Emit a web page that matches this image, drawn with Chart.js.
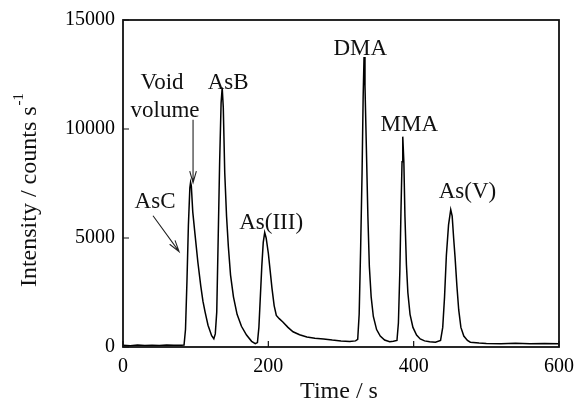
<!DOCTYPE html>
<html>
<head>
<meta charset="utf-8">
<script src="https://cdn.jsdelivr.net/npm/chart.js@4.4.1/dist/chart.umd.min.js"></script>
<style>
  html, body { margin: 0; padding: 0; background: #fff; }
  #wrap { width: 575px; height: 407px; position: relative; }
</style>
</head>
<body>
<div id="wrap"><canvas id="chart_chromatogram"></canvas></div>
<script>
// retention time (s) and intensity (counts/s)
var times = [
  0, 10, 20, 30, 40, 50, 60, 70, 80, 84,
  86, 88, 90, 92, 93, 94, 96, 99, 103, 107,
  110, 113, 117, 122, 125, 127, 129, 131, 133, 135,
  136.5, 138, 140, 142.5, 145, 148, 152, 157, 163, 170,
  177, 182, 185, 187, 189, 191, 193, 195, 197, 200,
  202.5, 205, 208, 211, 215, 220, 227, 234, 243, 253,
  264, 276, 288, 300, 312, 320, 323, 325, 327, 329,
  330.5, 331.7, 333, 335, 337, 339, 341.5, 344.5, 349, 354,
  360, 367, 372, 377, 379, 381, 382.5, 384, 385, 386.5,
  388, 390, 392, 395, 399, 404, 409, 415, 422, 430,
  437, 440, 442.5, 445, 448, 451, 453, 455, 457, 459.5,
  462, 465, 469, 474, 478, 490, 500, 520, 540, 560,
  580, 600
];
var intensity = [
  80, 60, 90, 70, 85, 65, 90, 75, 80, 90,
  800, 3000, 5600, 7300, 7550, 7400, 6200, 5200, 3900, 2800,
  2100, 1600, 1000, 520, 380, 600, 1600, 5000, 8500, 11200,
  11900, 11000, 8000, 6000, 4600, 3300, 2300, 1500, 950, 550,
  260, 150, 200, 900, 2300, 3700, 4800, 5250, 5000, 4300,
  3500, 2700, 1900, 1450, 1300, 1150, 900, 700, 560, 460,
  400, 370, 320, 280, 250, 280, 350, 1500, 4500, 8000,
  11500, 13300, 12000, 9000, 6000, 3700, 2300, 1400, 800, 500,
  320, 240, 260, 300, 1100, 3500, 6200, 8500, 9650, 8500,
  6000, 3800, 2500, 1500, 900, 550, 370, 280, 240, 220,
  300, 900, 2300, 4200, 5600, 6300, 6000, 5000, 4100, 2800,
  1700, 900, 500, 300, 220, 180, 160, 150, 170, 150,
  160, 150
];

// axis ticks
var xTicks = [0, 200, 400, 600];
var yTicks = [0, 5000, 10000, 15000];

// peak labels: text, time, intensity
var labelTexts = ['Void', 'volume', 'AsB', 'AsC', 'As(III)', 'DMA', 'MMA', 'As(V)'];
var labelX = [53.7, 57.9, 144.7, 44.1, 203.9, 326.5, 394, 474];
var labelY = [12115, 10832, 12115, 6664, 5702, 13672, 10191, 7122];

// arrows: [x0, y0, x1, y1] in data units, head at the end
var arrowVoid = [96.4, 10420, 96.4, 7535];
var arrowAsC = [41.3, 6023, 77.2, 4374];

var SERIF = "'Liberation Serif', 'Times New Roman', serif";

var points = times.map(function (t, i) { return { x: t, y: intensity[i] }; });

function drawArrow(ctx, xs, ys, a) {
    var x0 = xs.getPixelForValue(a[0]), y0 = ys.getPixelForValue(a[1]);
    var x1 = xs.getPixelForValue(a[2]), y1 = ys.getPixelForValue(a[3]);
    var ang = Math.atan2(y1 - y0, x1 - x0);
    var head = 12, spread = 0.28;
    ctx.beginPath();
    ctx.moveTo(x0, y0);
    ctx.lineTo(x1, y1);
    ctx.moveTo(x1 - head * Math.cos(ang - spread), y1 - head * Math.sin(ang - spread));
    ctx.lineTo(x1, y1);
    ctx.lineTo(x1 - head * Math.cos(ang + spread), y1 - head * Math.sin(ang + spread));
    ctx.stroke();
}

function plainTick(value) { return String(value); }

var chart_chromatogram = new Chart(document.getElementById('chart_chromatogram'), {
    type: 'line',
    data: {
        datasets: [
            {
                label: 'Intensity',
                data: points,
                borderColor: '#000',
                borderWidth: 1.5,
                pointRadius: 0,
                tension: 0,
                fill: false
            }
        ]
    },
    options: {
        animation: false,
        responsive: true,
        maintainAspectRatio: false,
        layout: {
            padding: { left: 0, top: 20, right: 16, bottom: 0 }
        },
        plugins: {
            legend: { display: false },
            title: { display: false },
            tooltip: { enabled: false }
        },
        scales: {
            x: {
                type: 'linear',
                min: xTicks[0],
                max: xTicks[xTicks.length - 1],
                afterBuildTicks: function (axis) {
                    axis.ticks = xTicks.map(function (v) { return { value: v }; });
                },
                afterFit: function (axis) {
                    axis.height = 60;
                    axis.paddingLeft = 0;
                    axis.paddingRight = 0;
                },
                grid: { display: false, drawTicks: false },
                border: { display: false },
                ticks: {
                    color: '#000',
                    padding: 8,
                    maxRotation: 0,
                    callback: plainTick,
                    font: { family: SERIF, size: 20 }
                }
            },
            y: {
                type: 'linear',
                min: yTicks[0],
                max: yTicks[yTicks.length - 1],
                afterBuildTicks: function (axis) {
                    axis.ticks = yTicks.map(function (v) { return { value: v }; });
                },
                afterFit: function (axis) {
                    axis.width = 123;
                    axis.paddingTop = 0;
                    axis.paddingBottom = 0;
                },
                grid: { display: false, drawTicks: false },
                border: { display: false },
                ticks: {
                    color: '#000',
                    padding: 8,
                    callback: plainTick,
                    font: { family: SERIF, size: 20 }
                }
            }
        }
    },
    plugins: [{
        id: 'frameAndNotes',
        beforeDraw: function (chart) {
            var ctx = chart.ctx;
            ctx.save();
            ctx.fillStyle = 'white';
            ctx.fillRect(0, 0, chart.width, chart.height);
            ctx.restore();
        },
        afterDraw: function (chart) {
            var ctx = chart.ctx;
            var a = chart.chartArea;
            var xs = chart.scales.x, ys = chart.scales.y;
            ctx.save();

            // box
            ctx.strokeStyle = '#111';
            ctx.lineWidth = 1.8;
            ctx.strokeRect(a.left, a.top, a.right - a.left, a.bottom - a.top);

            // inward tick marks
            ctx.lineWidth = 1.2;
            ctx.beginPath();
            xTicks.forEach(function (v) {
                var px = xs.getPixelForValue(v);
                ctx.moveTo(px, a.bottom);
                ctx.lineTo(px, a.bottom - 6);
            });
            yTicks.forEach(function (v) {
                var py = ys.getPixelForValue(v);
                ctx.moveTo(a.left, py);
                ctx.lineTo(a.left + 6, py);
            });
            ctx.stroke();

            // peak labels
            ctx.fillStyle = '#111';
            ctx.font = '23px ' + SERIF;
            ctx.textAlign = 'center';
            ctx.textBaseline = 'middle';
            labelTexts.forEach(function (txt, i) {
                ctx.fillText(txt, xs.getPixelForValue(labelX[i]), ys.getPixelForValue(labelY[i]));
            });

            // arrows
            ctx.strokeStyle = '#222';
            ctx.lineWidth = 1.1;
            drawArrow(ctx, xs, ys, arrowVoid);
            drawArrow(ctx, xs, ys, arrowAsC);

            // x title
            ctx.font = '24px ' + SERIF;
            ctx.fillStyle = '#111';
            ctx.textAlign = 'center';
            ctx.textBaseline = 'middle';
            ctx.fillText('Time / s', 339, 392);

            // y title with superscript
            var main = 'Intensity / counts s';
            var sup = '-1';
            ctx.font = '24px ' + SERIF;
            var wMain = ctx.measureText(main).width;
            ctx.font = '15px ' + SERIF;
            var wSup = ctx.measureText(sup).width;
            var total = wMain + wSup + 1;
            ctx.translate(30, 190);
            ctx.rotate(-Math.PI / 2);
            ctx.textAlign = 'left';
            ctx.textBaseline = 'middle';
            ctx.font = '24px ' + SERIF;
            ctx.fillText(main, -total / 2, 0);
            ctx.font = '15px ' + SERIF;
            ctx.fillText(sup, -total / 2 + wMain + 1, -11);

            ctx.restore();
        }
    }]
});
</script>
</body>
</html>
